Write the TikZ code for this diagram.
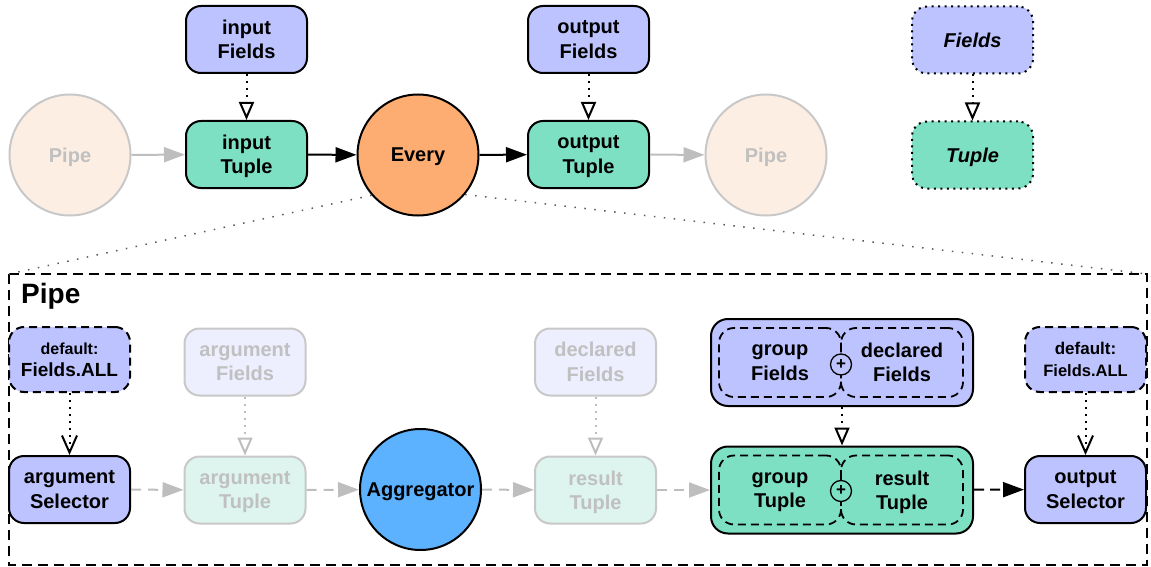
\documentclass[tikz,border=0pt]{standalone}
\usepackage{fontspec}
\setmainfont{Liberation Sans}
\usetikzlibrary{arrows.meta}
\definecolor{fieldsC}{RGB}{188,195,255}
\definecolor{tupleC}{RGB}{126,224,195}
\definecolor{everyC}{RGB}{253,173,113}
\definecolor{aggC}{RGB}{92,178,255}
\definecolor{pipeFill}{RGB}{253,238,228}
\definecolor{fadeLine}{RGB}{200,200,200}
\definecolor{fadeText}{RGB}{192,192,192}
\definecolor{fadeFields}{RGB}{237,239,255}
\definecolor{fadeTuple}{RGB}{221,245,238}
\definecolor{arrowGray}{RGB}{190,190,190}
\definecolor{zoomLine}{RGB}{90,90,90}
\begin{document}
\begin{tikzpicture}[x=1pt,y=-1pt,
  lbl/.style={font=\fontsize{20}{24.5}\selectfont\bfseries, align=center, text=black, text depth=0pt},
  box/.style={lbl, rectangle, rounded corners=15pt, minimum width=121pt, minimum height=67pt, inner sep=0pt, draw=black, line width=2pt},
  fbox/.style={box, fill=fieldsC},
  tbox/.style={box, fill=tupleC},
  circ/.style={lbl, circle, minimum size=121pt, inner sep=0pt, draw=black, line width=2pt},
  fadecirc/.style={circ, draw=fadeLine, fill=pipeFill, text=fadeText},
  fadebox/.style={box, draw=fadeLine, text=fadeText},
  legbox/.style={box, font=\fontsize{20}{24.5}\selectfont\bfseries\itshape, dash pattern=on 2pt off 4.5pt},
  deflt/.style={box, fill=fieldsC, font=\fontsize{17}{22}\selectfont\bfseries, dash pattern=on 8pt off 5pt, minimum height=65pt},
  bigbox/.style={box, rounded corners=17pt, minimum width=262pt, minimum height=87pt},
  inner/.style={lbl, rectangle, rounded corners=15pt, minimum width=122pt, minimum height=69pt, inner sep=0pt, draw=black, line width=1.8pt, dash pattern=on 8pt off 5pt},
  plus/.style={circle, draw=black, line width=1.3pt, minimum size=21pt, inner sep=0pt, font=\fontsize{17}{17}\selectfont\bfseries},
  solidarr/.style={line width=2pt, -{Triangle[length=21pt,width=15pt]}},
  grayarr/.style={solidarr, draw=arrowGray},
  graydash/.style={grayarr, dash pattern=on 10pt off 7pt},
  blackdash/.style={solidarr, dash pattern=on 10pt off 6pt},
  dotarr/.style={line width=2pt, dash pattern=on 2pt off 5pt, -{Triangle[open,length=18pt,width=15pt,fill=white]}},
  graydot/.style={dotarr, draw=arrowGray},
  barbarr/.style={line width=2pt, dash pattern=on 2pt off 5pt, -{Straight Barb[length=17pt,width=15pt]}},
  zoomline/.style={draw=zoomLine, line width=1.5pt, dash pattern=on 1.5pt off 8.5pt}
]
\useasboundingbox (0,0) rectangle (1151,567);

% expanded pipe frame
\coordinate (pbTL) at (9,274);
\coordinate (pbTR) at (1147,274);
\coordinate (pbBR) at (1147,565);
\draw[line width=2pt, dash pattern=on 10pt off 6pt] (pbTL) rectangle (pbBR);
\node[font=\fontsize{28}{30}\selectfont\bfseries, anchor=base west, inner sep=0pt] (pipelbl) at (21,303) {Pipe};

% top row
\node[fadecirc] (pipeL) at (70,155) {Pipe};
\node[fbox] (inF) at (246.5,39.5) {input\\Fields};
\node[tbox] (inT) at (246.5,154.5) {input\\Tuple};
\node[circ, fill=everyC] (every) at (418,155) {Every};
\node[fbox] (outF) at (588.5,39.5) {output\\Fields};
\node[tbox] (outT) at (588.5,154.5) {output\\Tuple};
\node[fadecirc] (pipeR) at (766,155) {Pipe};
\node[legbox, fill=fieldsC] (legF) at (972.5,40) {Fields};
\node[legbox, fill=tupleC] (legT) at (972.5,155) {Tuple};

\draw[grayarr] (pipeL) -- (inT);
\draw[solidarr] (inT) -- (every);
\draw[solidarr] (every) -- (outT);
\draw[grayarr] (outT) -- (pipeR);
\draw[dotarr] (inF) -- (inT);
\draw[dotarr] (outF) -- (outT);
\draw[dotarr] (legF) -- (legT);

\draw[zoomline] (every.221) -- (pbTL);
\draw[zoomline] (every.320) -- (pbTR);

% bottom row
\node[deflt] (defL) at (69.5,359.5) {{\fontsize{16}{22}\selectfont default:}\\{\fontsize{19}{22}\selectfont Fields.ALL}};
\node[fbox] (argSel) at (69.5,489.5) {argument\\Selector};
\node[fadebox, fill=fadeFields] (argF) at (245,362) {argument\\Fields};
\node[fadebox, fill=fadeTuple] (argT) at (245,490) {argument\\Tuple};
\node[circ, fill=aggC] (agg) at (420.5,489.5) {Aggregator};
\node[fadebox, fill=fadeFields] (declF) at (595.5,362) {declared\\Fields};
\node[fadebox, fill=fadeTuple] (resT) at (595.5,490) {result\\Tuple};

\node[bigbox, fill=fieldsC] (bigF) at (842,362.5) {};
\node[inner] (bigFl) at (780,362.5) {group\\Fields};
\node[inner] (bigFr) at (902,362.5) {declared\\Fields};
\node[plus, fill=fieldsC] (plusF) at (841,364.5) {+};

\node[bigbox, fill=tupleC] (bigT) at (842,490) {};
\node[inner] (bigTl) at (780,490) {group\\Tuple};
\node[inner] (bigTr) at (902,490) {result\\Tuple};
\node[plus, fill=tupleC] (plusT) at (841,491) {+};

\node[deflt] (defR) at (1085.5,359.5) {{\fontsize{17}{21}\selectfont default:}\\{\fontsize{16.5}{21}\selectfont Fields.ALL}};
\node[fbox] (outSel) at (1085.5,489.5) {output\\Selector};

\draw[barbarr] (defL) -- (argSel);
\draw[graydot] (argF) -- (argT);
\draw[graydash] (argSel) -- (argT);
\draw[graydash] (argT) -- (agg);
\draw[graydash] (agg) -- (resT);
\draw[graydot] (declF) -- (resT);
\draw[graydash] (resT) -- (bigT);
\draw[dotarr] (bigF) -- (bigT);
\draw[blackdash] (bigT) -- (outSel);
\draw[barbarr] (defR) -- (outSel);
\end{tikzpicture}
\end{document}
